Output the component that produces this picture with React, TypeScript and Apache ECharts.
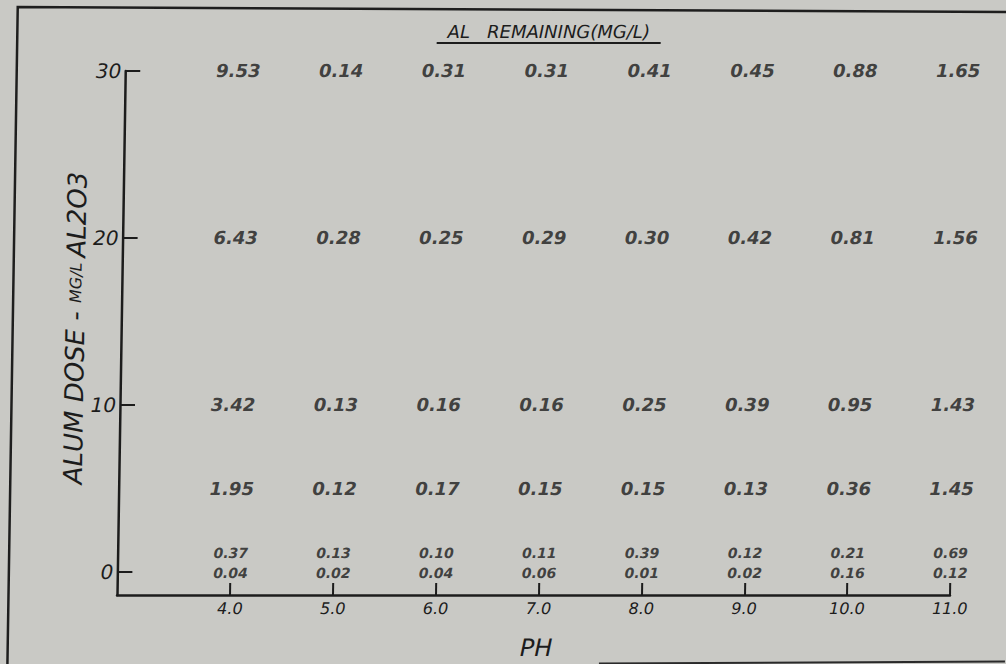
import React, { useEffect, useRef } from "react";
import * as echarts from "echarts";

// pH values (x) and alum dose levels (y)
const phValues = [4, 5, 6, 7, 8, 9, 10, 11];
const xTickValues = [4, 5, 6, 7, 8, 9, 10, 11];
const yTickValues = [0, 10, 20, 30];

// Al remaining (mg/L) for each dose row, by pH
const dose30 = [9.53, 0.14, 0.31, 0.31, 0.41, 0.45, 0.88, 1.65];
const dose20 = [6.43, 0.28, 0.25, 0.29, 0.3, 0.42, 0.81, 1.56];
const dose10 = [3.42, 0.13, 0.16, 0.16, 0.25, 0.39, 0.95, 1.43];
const dose5 = [1.95, 0.12, 0.17, 0.15, 0.15, 0.13, 0.36, 1.45];
const dose1 = [0.37, 0.13, 0.1, 0.11, 0.39, 0.12, 0.21, 0.69];
const dose0 = [0.04, 0.02, 0.04, 0.06, 0.01, 0.02, 0.16, 0.12];

const mainRows: [number, number[]][] = [
  [30, dose30],
  [20, dose20],
  [10, dose10],
  [5, dose5],
];

const INK = "#1c1c1c";
const FONT = "DejaVu Sans";

function toPoints(rows: [number, number[]][]) {
  const pts: number[][] = [];
  rows.forEach(([dose, vals]) => {
    vals.forEach((v, i) => pts.push([phValues[i], dose, v]));
  });
  return pts;
}

const labelFmt = (p: any) => Number(p.value[2]).toFixed(2);

function valueLabel(size: number, dy: number) {
  return {
    show: true,
    position: "inside",
    formatter: labelFmt,
    color: INK,
    fontFamily: FONT,
    fontStyle: "italic",
    fontWeight: "bold",
    fontSize: size,
    lineHeight: size,
    offset: [0, dy],
  };
}

export default function App() {
  const ref = useRef<HTMLDivElement>(null);

  useEffect(() => {
    if (!ref.current) return;
    const chart = echarts.init(ref.current, undefined, { renderer: "svg" });
    chart.setOption({
      animation: false,
      backgroundColor: "transparent",
      grid: { left: 117, right: 56, top: 71, bottom: 69, containLabel: false },
      xAxis: {
        type: "value",
        min: 2.9,
        max: 11,
        axisLine: { show: true, onZero: false, lineStyle: { color: INK, width: 2.5 } },
        axisTick: {
          show: true,
          inside: true,
          length: 12,
          customValues: xTickValues,
          lineStyle: { color: INK, width: 2 },
        },
        axisLabel: {
          customValues: xTickValues,
          formatter: (v: number) => v.toFixed(1),
          color: INK,
          fontFamily: FONT,
          fontStyle: "italic",
          fontSize: 16,
          margin: 5,
        },
        splitLine: { show: false },
      },
      yAxis: {
        type: "value",
        min: -1.4,
        max: 30,
        axisLine: { show: true, onZero: false, lineStyle: { color: INK, width: 2.5 } },
        axisTick: {
          show: true,
          inside: true,
          length: 15,
          customValues: yTickValues,
          lineStyle: { color: INK, width: 2 },
        },
        axisLabel: {
          customValues: yTickValues,
          color: INK,
          fontFamily: FONT,
          fontStyle: "italic",
          fontSize: 20,
          margin: 4,
        },
        splitLine: { show: false },
      },
      series: [
        {
          type: "scatter",
          symbolSize: 0,
          data: toPoints(mainRows),
          label: valueLabel(18, 0),
          silent: true,
        },
        {
          type: "scatter",
          symbolSize: 0,
          data: toPoints([[1, dose1]]),
          label: valueLabel(14, -2),
          silent: true,
        },
        {
          type: "scatter",
          symbolSize: 0,
          data: toPoints([[0, dose0]]),
          label: valueLabel(14, 1),
          silent: true,
        },
      ],
      graphic: [
        {
          type: "polyline",
          shape: { points: [[8.5, 664], [8.5, 7], [1010, 12]] },
          style: { stroke: "#1e1e1e", lineWidth: 2.5, fill: "none" },
          silent: true,
        },
        {
          type: "line",
          shape: { x1: 600, y1: 663.5, x2: 1010, y2: 661.5 },
          style: { stroke: "#2a2a2a", lineWidth: 2 },
          silent: true,
        },
        {
          type: "text",
          x: 540,
          y: 32,
          style: {
            text: "AL   REMAINING(MG/L)",
            fill: INK,
            font: `italic 18px "${FONT}"`,
            textAlign: "center",
            textVerticalAlign: "middle",
          },
          silent: true,
        },
        {
          type: "line",
          shape: { x1: 428, y1: 43, x2: 652, y2: 43 },
          style: { stroke: INK, lineWidth: 2 },
          silent: true,
        },
        {
          type: "text",
          x: 71,
          y: 328,
          rotation: Math.PI / 2,
          style: {
            text: "{a|ALUM DOSE - }{b|MG/L }{a|AL2O3}",
            textAlign: "center",
            textVerticalAlign: "middle",
            fill: INK,
            rich: {
              a: { fontFamily: FONT, fontStyle: "italic", fontSize: 26, fill: INK },
              b: { fontFamily: FONT, fontStyle: "italic", fontSize: 16, fill: INK },
            },
          },
          silent: true,
        },
        {
          type: "text",
          x: 537,
          y: 648,
          style: {
            text: "PH",
            fill: INK,
            font: `italic 24px "${FONT}"`,
            textAlign: "center",
            textVerticalAlign: "middle",
          },
          silent: true,
        },
      ],
    });
    return () => chart.dispose();
  }, []);

  return (
    <div
      style={{
        position: "fixed",
        left: 0,
        top: 0,
        width: 1006,
        height: 664,
        background: "#c9c9c5",
        overflow: "hidden",
      }}
    >
      <div
        ref={ref}
        style={{
          width: 1006,
          height: 664,
          transform: "skewX(-0.9deg)",
          transformOrigin: "0 595px",
        }}
      />
    </div>
  );
}
